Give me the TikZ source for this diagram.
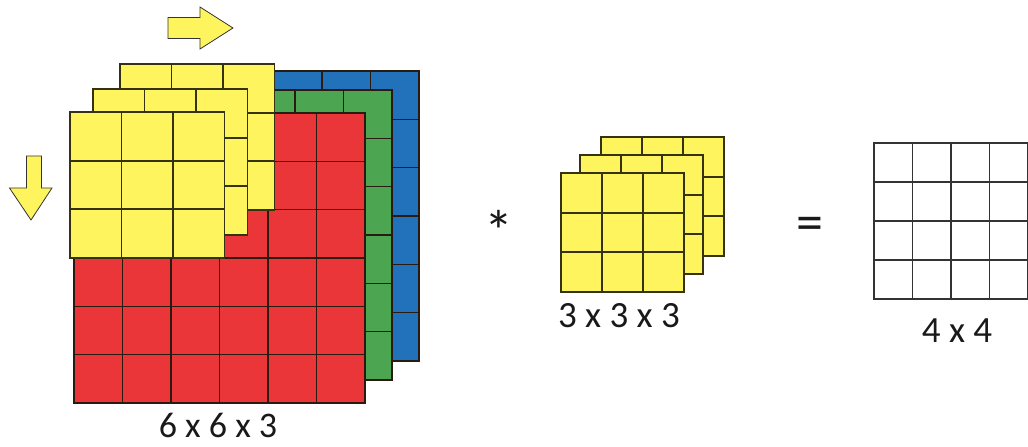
\documentclass[tikz,border=0pt]{standalone}
\usepackage{fontspec}
\setmainfont{Carlito}
\definecolor{cred}{HTML}{EB3639}
\definecolor{cgreen}{HTML}{4CA550}
\definecolor{cblue}{HTML}{2172BA}
\definecolor{cyel}{HTML}{FDF45E}
\definecolor{cline}{HTML}{2A1A10}
\definecolor{yline}{HTML}{35330F}
% #1 fill, #2 line style, #3 x0, #4 y0, #5 cell w, #6 cell h, #7 cols, #8 rows
\newcommand\celllayer[8]{%
  \fill[#1] (#3,#4) rectangle ({#3+#5*#7},{#4+#6*#8});
  \foreach \i in {1,...,#7}{\draw[#2] ({#3+#5*\i},#4) -- ({#3+#5*\i},{#4+#6*#8});}
  \foreach \j in {1,...,#8}{\draw[#2] (#3,{#4+#6*\j}) -- ({#3+#5*#7},{#4+#6*\j});}
  \draw[#2] (#3,#4) rectangle ({#3+#5*#7},{#4+#6*#8});
}
\begin{document}
\begin{tikzpicture}[x=1pt,y=-1pt,
  inner/.style={draw=cline,line width=1.3pt},
  yel/.style={draw=yline,line width=1.8pt},
  arrowshape/.style={fill=cyel,draw=black!80,line width=0.8pt,line join=miter},
  lbl/.style={font=\fontsize{37}{40}\selectfont,inner sep=0pt,anchor=base,text depth=0pt,text=black!90},
  starop/.style={font=\fontsize{58}{60}\selectfont,inner sep=0pt,anchor=base,text=black!90},
  eqop/.style={font=\fontsize{54}{58}\selectfont,inner sep=0pt,anchor=base,text=black!90}]
\useasboundingbox (0,0) rectangle (1028,447);
% input volume
\celllayer{cblue}{inner}{128}{71}{48.5}{48.33}{6}{6}
\celllayer{cgreen}{inner}{101}{90}{48.5}{48.33}{6}{6}
\celllayer{cred}{inner}{74}{113}{48.5}{48.33}{6}{6}
% filter on the input
\celllayer{cyel}{yel}{120}{64}{51.5}{48.6}{3}{3}
\celllayer{cyel}{yel}{93}{89}{51.5}{48.6}{3}{3}
\celllayer{cyel}{yel}{70}{112}{51.5}{48.6}{3}{3}
% sliding arrows
\filldraw[arrowshape] (168,17.5) -- (200,17.5) -- (200,7) -- (233,28) -- (200,49) -- (200,38.5) -- (168,38.5) -- cycle;
\filldraw[arrowshape] (26.5,156) -- (41.5,156) -- (41.5,188) -- (52,188) -- (31,220) -- (9.5,188) -- (26.5,188) -- cycle;
\node[lbl,font=\fontsize{36}{40}\selectfont] (inlbl) at (218,437.5) {6 x 6 x 3};
% operator
\node[starop] (star) at (499,251) {*};
% filter
\celllayer{cyel}{yel}{601}{137}{41}{39.6}{3}{3}
\celllayer{cyel}{yel}{580}{155}{41}{39.6}{3}{3}
\celllayer{cyel}{yel}{561}{173}{41}{39.6}{3}{3}
\node[lbl] (flbl) at (619,327) {3 x 3 x 3};
\node[eqop] (eq) at (810,240) {=};
% output
\celllayer{white}{draw=black!80,line width=1.1pt}{874}{143}{38.5}{39}{4}{4}
\node[lbl] (olbl) at (957,342) {4 x 4};
\end{tikzpicture}
\end{document}
